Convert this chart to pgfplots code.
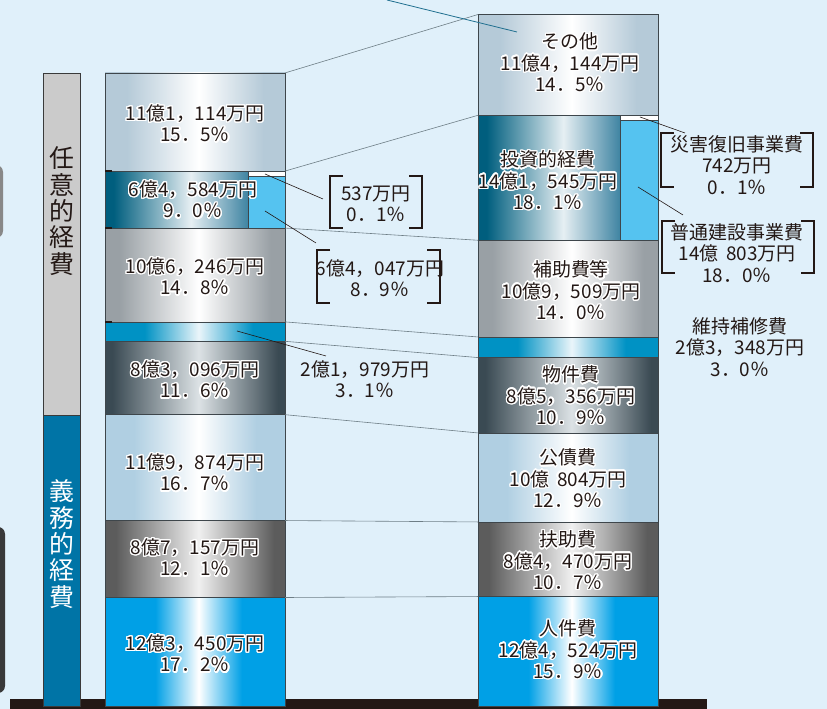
\documentclass[border=0pt]{standalone}
\usepackage{pgfplots}
\pgfplotsset{compat=1.18}
\usepackage{fontspec}
\setmainfont{Noto Sans CJK JP}
\usepackage{contour}
\contourlength{1.3pt}
\contournumber{24}

\definecolor{bg}{HTML}{E0F0FA}
\definecolor{txt}{HTML}{231815}
\definecolor{segline}{HTML}{3E464B}
\definecolor{conn}{HTML}{6E7E86}
\definecolor{teal}{HTML}{1F6F8F}
\definecolor{boxgray}{HTML}{CBCBCB}
\definecolor{boxblue}{HTML}{0074A6}
\definecolor{boxline}{HTML}{3A3A3A}
\definecolor{cJin}{HTML}{00A0E6}
\definecolor{cFuj}{HTML}{5C5C5C}
\definecolor{cKos}{HTML}{B0CFE2}
\definecolor{cBus}{HTML}{3A4A53}
\definecolor{cIji}{HTML}{0092C4}
\definecolor{cHoj}{HTML}{99A0A5}
\definecolor{cTouL}{HTML}{005E7E}
\definecolor{cTouC}{HTML}{E6EFF3}
\definecolor{cTouR}{HTML}{3F84A2}
\definecolor{cSon}{HTML}{B5CAD8}
\definecolor{cFutsu}{HTML}{55C3F0}
\definecolor{cFujC}{HTML}{F0F0F0}
\definecolor{cBusC}{HTML}{DCE2E5}
\definecolor{cIjiC}{HTML}{EAF5FA}

% path spans stops 25bp..75bp
\pgfdeclarehorizontalshading{shJin}{100bp}{color(0bp)=(cJin); color(39bp)=(cJin); color(51bp)=(white); color(63bp)=(cJin); color(100bp)=(cJin)}
\pgfdeclarehorizontalshading{shFuj}{100bp}{color(0bp)=(cFuj); color(28bp)=(cFuj); color(51bp)=(cFujC); color(72bp)=(cFuj); color(100bp)=(cFuj)}
\pgfdeclarehorizontalshading{shKos}{100bp}{color(0bp)=(cKos); color(33bp)=(cKos); color(51bp)=(white); color(67bp)=(cKos); color(100bp)=(cKos)}
\pgfdeclarehorizontalshading{shBus}{100bp}{color(0bp)=(cBus); color(27bp)=(cBus); color(51bp)=(cBusC); color(73bp)=(cBus); color(100bp)=(cBus)}
\pgfdeclarehorizontalshading{shIji}{100bp}{color(0bp)=(cIji); color(36bp)=(cIji); color(51bp)=(cIjiC); color(66bp)=(cIji); color(100bp)=(cIji)}
\pgfdeclarehorizontalshading{shHoj}{100bp}{color(0bp)=(cHoj); color(29bp)=(cHoj); color(51bp)=(white); color(71bp)=(cHoj); color(100bp)=(cHoj)}
\pgfdeclarehorizontalshading{shTou}{100bp}{color(0bp)=(cTouL); color(28bp)=(cTouL); color(55bp)=(cTouC); color(75bp)=(cTouR); color(100bp)=(cTouR)}
\pgfdeclarehorizontalshading{shSon}{100bp}{color(0bp)=(cSon); color(31bp)=(cSon); color(51bp)=(white); color(69bp)=(cSon); color(100bp)=(cSon)}

\tikzset{
  seg/.style={draw=segline, line width=0.6bp, shade},
  flat/.style={draw=segline, line width=0.6bp},
  lab/.style={font=\fontsize{19}{21.5}\selectfont, text=txt, align=center, inner sep=0pt},
  brk/.style={draw=txt, line width=2.4bp},
  lead/.style={draw=txt, line width=0.6bp},
}
\newcommand{\hl}[1]{\contour{white}{#1}}

\begin{document}
\begin{tikzpicture}
% frame, base and side boxes (pixel coordinates)
\begin{scope}[x=1bp, y=-1bp, shift={(0,709bp)}]
  \fill[bg] (0,0) rectangle (827,709);
  \fill[black!10!gray!85, rounded corners=7bp] (-20,165) rectangle (3,238);
  \fill[black!55!gray, rounded corners=7bp] (-20,527) rectangle (5,693);
  \fill[txt] (10,699) rectangle (707,709);
  \filldraw[fill=boxgray, draw=boxline, line width=0.8bp] (43,73) rectangle (80,415);
  \filldraw[fill=boxblue, draw=boxline, line width=0.8bp] (43,415) rectangle (80,706);
  \node[text=txt, font=\fontsize{25}{26.5}\selectfont, align=center, inner sep=0pt] at (61.5,211) {任\\意\\的\\経\\費};
  \node[text=white, font=\fontsize{25}{26.5}\selectfont, align=center, inner sep=0pt] at (61.5,544) {義\\務\\的\\経\\費};
\end{scope}

\begin{axis}[at={(0,0)}, anchor=south west, scale only axis,
    width=827bp, height=709bp,
    xmin=0, xmax=827, ymin=-2831, ymax=800113,
    hide axis, clip=false]

% left bar (万円, cumulative from the bottom)
\addplot[seg, shading=shJin] coordinates {(105,0) (285,0) (285,123450) (105,123450)} --cycle;
\addplot[seg, shading=shFuj] coordinates {(105,123450) (285,123450) (285,210607) (105,210607)} --cycle;
\addplot[seg, shading=shKos] coordinates {(105,210607) (285,210607) (285,330481) (105,330481)} --cycle;
\addplot[seg, shading=shBus] coordinates {(105,330481) (285,330481) (285,413577) (105,413577)} --cycle;
\addplot[seg, shading=shIji] coordinates {(105,413577) (285,413577) (285,435556) (105,435556)} --cycle;
\addplot[seg, shading=shHoj] coordinates {(105,435556) (285,435556) (285,541802) (105,541802)} --cycle;
\addplot[seg, shading=shTou] coordinates {(105,541802) (248,541802) (248,606386) (105,606386)} --cycle;
\addplot[flat, fill=cFutsu] coordinates {(248,541802) (285,541802) (285,600726) (248,600726)} --cycle;
\addplot[flat, fill=white] coordinates {(248,600726) (285,600726) (285,606386) (248,606386)} --cycle;
\addplot[seg, shading=shSon] coordinates {(105,606386) (285,606386) (285,717500) (105,717500)} --cycle;

% right bar
\addplot[seg, shading=shJin] coordinates {(478,0) (658,0) (658,124524) (478,124524)} --cycle;
\addplot[seg, shading=shFuj] coordinates {(478,124524) (658,124524) (658,208994) (478,208994)} --cycle;
\addplot[seg, shading=shKos] coordinates {(478,208994) (658,208994) (658,309798) (478,309798)} --cycle;
\addplot[seg, shading=shBus] coordinates {(478,309798) (658,309798) (658,395154) (478,395154)} --cycle;
\addplot[seg, shading=shIji] coordinates {(478,395154) (658,395154) (658,418502) (478,418502)} --cycle;
\addplot[seg, shading=shHoj] coordinates {(478,418502) (658,418502) (658,528011) (478,528011)} --cycle;
\addplot[seg, shading=shTou] coordinates {(478,528011) (620,528011) (620,669556) (478,669556)} --cycle;
\addplot[flat, fill=cFutsu] coordinates {(620,528011) (658,528011) (658,663896) (620,663896)} --cycle;
\addplot[flat, fill=white] coordinates {(620,663896) (658,663896) (658,669556) (620,669556)} --cycle;
\addplot[seg, shading=shSon] coordinates {(478,669556) (658,669556) (658,783700) (478,783700)} --cycle;

% connectors between the two bars
\draw[conn, line width=0.6bp] (285,717500) -- (478,783700);
\draw[conn, line width=0.6bp] (285,606386) -- (478,669556);
\draw[conn, line width=0.6bp] (285,541802) -- (478,528011);
\draw[conn, line width=0.6bp] (285,435556) -- (478,418502);
\draw[conn, line width=0.6bp] (285,413577) -- (478,395154);
\draw[conn, line width=0.6bp] (285,330481) -- (478,309798);
\draw[conn, line width=0.6bp] (285,210607) -- (478,208994);
\draw[conn, line width=0.6bp] (285,123450) -- (478,124524);
\end{axis}

% annotations (pixel coordinates)
\begin{scope}[x=1bp, y=-1bp, shift={(0,709bp)}]
  \draw[line width=1.6bp, txt] (105,171) -- (112,171) (105,228) -- (112,228) (105,322) -- (112,322);
  \draw[teal, line width=0.8bp] (387,0) -- (517,32);
  % leaders
  \draw[lead] (265,174) -- (323,199);
  \draw[lead] (265,211) -- (316,243);
  \draw[lead] (237,331) -- (326,356);
  \draw[lead] (640,117) -- (685,133);
  \draw[lead] (638,187) -- (683,215);
  % brackets
  \draw[brk] (343,176) -- (330,176) -- (330,228) -- (343,228);
  \draw[brk] (409,176) -- (422,176) -- (422,228) -- (409,228);
  \draw[brk] (330,250) -- (317,250) -- (317,303) -- (330,303);
  \draw[brk] (427,250) -- (440,250) -- (440,303) -- (427,303);
  \draw[brk] (674,133) -- (661,133) -- (661,187) -- (674,187);
  \draw[brk] (800,133) -- (813,133) -- (813,187) -- (800,187);
  \draw[brk] (675,221) -- (662,221) -- (662,273) -- (675,273);
  \draw[brk] (801,221) -- (814,221) -- (814,273) -- (801,273);

  % left bar labels
  \node[lab] at (195,124) {\hl{11億1，114万円}\\\hl{15．5％}};
  \node[lab] at (193,200) {\hl{6億4，584万円}\\\hl{9．0％}};
  \node[lab] at (195,277) {\hl{10億6，246万円}\\\hl{14．8％}};
  \node[lab] at (195,380) {\hl{8億3，096万円}\\\hl{11．6％}};
  \node[lab] at (195,473) {\hl{11億9，874万円}\\\hl{16．7％}};
  \node[lab] at (195,558) {\hl{8億7，157万円}\\\hl{12．1％}};
  \node[lab] at (195,654) {\hl{12億3，450万円}\\\hl{17．2％}};
  % right bar labels
  \node[lab] at (570,63) {\hl{その他}\\\hl{11億4，144万円}\\\hl{14．5％}};
  \node[lab] at (548,181) {\hl{投資的経費}\\\hl{14億1，545万円}\\\hl{18．1％}};
  \node[lab] at (571,291) {\hl{補助費等}\\\hl{10億9，509万円}\\\hl{14．0％}};
  \node[lab] at (571,396) {\hl{物件費}\\\hl{8億5，356万円}\\\hl{10．9％}};
  \node[lab] at (568,479) {\hl{公債費}\\\hl{10億\hspace{0.4em}804万円}\\\hl{12．9％}};
  \node[lab] at (568,561) {\hl{扶助費}\\\hl{8億4，470万円}\\\hl{10．7％}};
  \node[lab] at (568,650) {\hl{人件費}\\\hl{12億4，524万円}\\\hl{15．9％}};
  % outside labels
  \node[lab] at (376,204) {537万円\\0．1％};
  \node[lab] at (380,278) {6億4，047万円\\8．9％};
  \node[lab] at (365,379) {2億1，979万円\\3．1％};
  \node[lab] at (737,165) {災害復旧事業費\\742万円\\0．1％};
  \node[lab] at (737,253) {普通建設事業費\\14億\hspace{0.4em}803万円\\18．0％};
  \node[lab] at (740,347) {維持補修費\\2億3，348万円\\3．0％};
\end{scope}
\pgfresetboundingbox
\path (0,0) rectangle (827bp,709bp);
\end{tikzpicture}
\end{document}
